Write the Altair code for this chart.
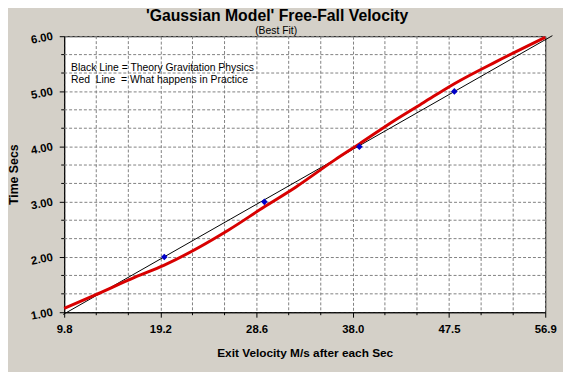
import json
import altair as alt
import pandas as pd

# ---- data ----
x_major = [9.8, 19.22, 28.64, 38.06, 47.48, 56.9]
x_major_labels = ["9.8", "19.2", "28.6", "38.0", "47.5", "56.9"]
x_minor = [12.94, 16.08, 22.36, 25.5, 31.78, 34.92, 41.2, 44.34, 50.62, 53.76]
y_major = [1.0, 2.0, 3.0, 4.0, 5.0, 6.0]
y_minor = [1.3333, 1.6667, 2.3333, 2.6667, 3.3333, 3.6667, 4.3333, 4.6667,
           5.3333, 5.6667]

theory_v = [9.7, 57.6]
theory_t = [0.96, 6.01]

practice_v = [9.8, 12.8, 16.8, 19.55, 25.9, 29.4, 32.5, 36.3, 38.7, 42.1, 45.0,
              48.0, 52.1, 56.9]
practice_t = [1.07, 1.31, 1.64, 1.85, 2.49, 2.91, 3.27, 3.76, 4.05, 4.47, 4.80,
              5.14, 5.54, 5.98]

obs_v = [19.6, 29.4, 38.7, 48.0]
obs_t = [2.0, 3.0, 4.0, 5.0]

legend_text = ["Black Line = Theory Gravitation Physics",
               "Red\u00a0 Line\u00a0 = What happens in Practice"]

title_text = "'Gaussian Model' Free-Fall Velocity"
subtitle_text = "(Best Fit)"
x_title = "Exit Velocity M/s after each Sec"
y_title = "Time Secs"

# ---- tables ----
theory = pd.DataFrame({"v": theory_v, "t": theory_t})
practice = pd.DataFrame({"v": practice_v, "t": practice_t})
obs = pd.DataFrame({"v": obs_v, "t": obs_t})
xmin_df = pd.DataFrame({"v": x_minor})
ymin_df = pd.DataFrame({"t": y_minor})
one = pd.DataFrame({"k": [0]})

FONT = "Liberation Sans"
GRID = "#808080"
DASH = [3, 2]
W, H = 488, 280

x_scale = alt.Scale(domain=[9.8, 56.9], nice=False, zero=False)
y_scale = alt.Scale(domain=[1, 6], nice=False, zero=False)

x_axis = alt.Axis(
    values=x_major,
    labelExpr=f"{json.dumps(x_major_labels)}[round((datum.value - 9.8) / 9.42)]",
    labelOverlap=False, labelFlush=False,
    grid=True, gridDash=DASH, gridColor=GRID, gridWidth=1,
    domainColor="black", tickColor="black", tickSize=5,
    labelFont=FONT, labelFontSize=11.5, labelFontWeight="bold", labelColor="black",
    labelPadding=7,
    title=x_title, titleFont=FONT, titleFontSize=12, titleFontWeight="bold",
    titleColor="black", titlePadding=12,
)
y_axis = alt.Axis(
    values=y_major, format=".2f",
    labelOverlap=False, labelFlush=False,
    grid=True, gridDash=DASH, gridColor=GRID, gridWidth=1,
    domainColor="black", tickColor="black", tickSize=5,
    labelFont=FONT, labelFontSize=11.5, labelFontWeight="bold", labelColor="black",
    labelAngle=349, labelAlign="right", labelBaseline="middle", labelPadding=7,
    title=y_title, titleFont=FONT, titleFontSize=12.5, titleFontWeight="bold",
    titleColor="black", titleX=-44, titleY=H / 2, titleAlign="center",
    titleBaseline="bottom", titleAngle=270,
)

# minor grid lines and minor ticks
x_minor_grid = alt.Chart(xmin_df).mark_rule(
    color=GRID, strokeDash=DASH, strokeWidth=1
).encode(x=alt.X("v:Q", scale=x_scale, axis=x_axis))
y_minor_grid = alt.Chart(ymin_df).mark_rule(
    color=GRID, strokeDash=DASH, strokeWidth=1
).encode(y=alt.Y("t:Q", scale=y_scale, axis=y_axis))
x_minor_ticks = alt.Chart(xmin_df).mark_rule(color="black", clip=False).encode(
    x="v:Q", y=alt.value(H), y2=alt.value(H + 3))
y_minor_ticks = alt.Chart(ymin_df).mark_rule(color="black", clip=False).encode(
    y="t:Q", x=alt.value(-3), x2=alt.value(0))

theory_line = alt.Chart(theory).mark_line(color="black", strokeWidth=1, clip=False).encode(
    x="v:Q", y="t:Q")
practice_line = alt.Chart(practice).mark_line(
    color="#d80000", strokeWidth=3, interpolate="monotone"
).encode(x="v:Q", y="t:Q")
points = alt.Chart(obs).mark_point(
    shape="diamond", filled=True, color="#0000c8", size=45, opacity=1
).encode(x="v:Q", y="t:Q")
legend = alt.Chart(one).mark_text(
    align="left", baseline="alphabetic", font=FONT, fontSize=10.5, color="black",
    lineHeight=12.5
).encode(x=alt.value(7), y=alt.value(35), text=alt.value(legend_text))

title = alt.Chart(one).mark_text(
    align="center", baseline="alphabetic", font=FONT, fontSize=16,
    fontWeight="bold", color="black"
).encode(x=alt.value(216), y=alt.value(-15), text=alt.value(title_text))
subtitle = alt.Chart(one).mark_text(
    align="center", baseline="alphabetic", font=FONT, fontSize=10.5, color="black"
).encode(x=alt.value(215), y=alt.value(-2.5), text=alt.value(subtitle_text))

chart = alt.layer(
    x_minor_grid, y_minor_grid, x_minor_ticks, y_minor_ticks,
    theory_line, practice_line, points, legend, title, subtitle
).properties(
    width=W, height=H,
    padding={"left": 57, "top": 26, "right": 18, "bottom": 58},
    autosize=alt.AutoSizeParams(type="none"),
    background="#d4d0c8",
).configure_view(stroke="black", strokeWidth=1, fill="white")

chart.save("out.html", embed_options={"renderer": "svg", "actions": False})
